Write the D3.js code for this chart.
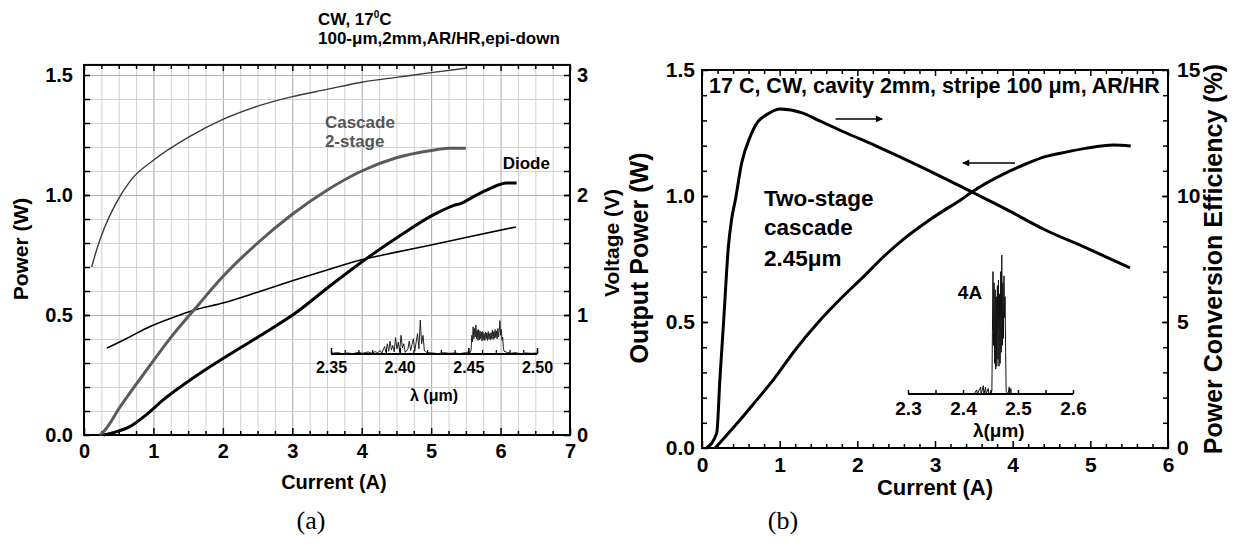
<!DOCTYPE html>
<html><head><meta charset="utf-8">
<script src="https://cdn.jsdelivr.net/npm/d3@7"></script>
<style>
body{margin:0;background:#fff}
svg text{font-family:"Liberation Sans",Arial,sans-serif;font-weight:bold;fill:#000}
.cap{font-family:"Liberation Serif","Times New Roman",serif;font-weight:normal}
</style></head><body>
<svg id="fig" width="1235" height="546"></svg>
<script>
// ---------- Panel (a): cascade vs. diode, L-I-V ----------
const iCascadeV = [0.11,0.18,0.29,0.45,0.67,1.0,1.5,2.0,2.5,3.0,3.5,4.0,4.5,5.0,5.5];
const vCascade  = [1.40,1.54,1.72,1.92,2.12,2.29,2.48,2.63,2.74,2.82,2.88,2.94,2.98,3.02,3.056];
const iCascadeP = [0.23,0.3,0.52,0.9,1.28,1.64,2.0,2.5,3.0,3.5,4.0,4.5,5.0,5.25,5.5];
const pCascade  = [0,0.02,0.117,0.27,0.417,0.54,0.66,0.80,0.92,1.02,1.10,1.155,1.185,1.195,1.195];
const iDiodeP   = [0.28,0.45,0.66,0.9,1.14,1.56,2.12,2.6,3.03,3.56,4.02,4.55,5.05,5.32,5.44,5.56,5.8,6.09,6.23];
const pDiode    = [0,0.012,0.035,0.085,0.146,0.235,0.34,0.425,0.505,0.625,0.725,0.83,0.92,0.956,0.966,0.985,1.02,1.05,1.05];
const iDiodeV   = [0.33,0.6,0.9,1.38,1.64,2.0,2.5,3.0,3.5,4.0,4.5,5.0,5.5,6.22];
const vDiode    = [0.724,0.80,0.89,1.00,1.05,1.10,1.19,1.285,1.375,1.46,1.524,1.584,1.646,1.734];

// spectrum inset of panel (a)
const lamA = [2.350,2.355,2.358,2.362,2.366,2.370,2.373,2.377,2.380,2.382,
  2.384,2.386,2.387,2.389,2.390,2.391,2.392,2.393,2.394,2.395,2.396,2.397,2.398,2.399,2.400,2.401,2.402,2.403,2.404,2.406,2.407,2.408,2.409,2.410,2.411,2.412,2.413,2.414,2.415,2.416,2.417,2.418,2.420,
  2.424,2.428,2.432,2.436,2.440,2.444,2.448,2.450,2.451,
  2.4520,2.4525,2.4530,2.4535,2.4540,2.4545,2.4550,2.4555,2.4560,2.4565,2.4570,2.4575,2.4580,2.4585,2.4590,2.4595,2.4600,2.4605,2.4610,2.4615,2.4620,2.4625,2.4630,2.4635,2.4640,2.4645,2.4650,2.4655,2.4660,2.4665,2.4670,2.4675,2.4680,2.4685,2.4690,2.4695,2.4700,2.4705,2.4710,2.4715,2.4720,2.4725,2.4730,2.4735,2.4740,2.4745,2.4750,2.4755,2.4760,
  2.478,2.481,2.484,2.488,2.492,2.496,2.500];
const intA = [0.02,0.04,0.01,0.03,0.01,0.05,0.02,0.06,0.02,0.07,
  0.04,0.10,0.02,0.22,0.05,0.30,0.08,0.38,0.12,0.25,0.06,0.48,0.15,0.35,0.08,0.55,0.18,0.30,0.05,0.15,0.38,0.10,0.28,0.45,0.08,0.35,0.60,0.15,1.0,0.30,0.55,0.10,0.04,
  0.03,0.01,0.04,0.02,0.03,0.01,0.04,0.06,0.03,
  0.10,0.55,0.35,0.80,0.45,0.75,0.50,0.85,0.45,0.70,0.40,0.72,0.42,0.68,0.45,0.65,0.38,0.66,0.42,0.60,0.40,0.64,0.45,0.62,0.40,0.66,0.44,0.60,0.42,0.63,0.45,0.70,0.43,0.66,0.46,0.72,0.48,0.68,0.45,0.75,0.50,0.70,0.98,0.55,0.72,0.40,0.50,0.20,0.08,
  0.05,0.02,0.04,0.01,0.03,0.02,0.03];
const lamTicksA = [2.35,2.40,2.45,2.50];

// ---------- Panel (b): two-stage cascade ----------
const iEff = [0.06,0.19,0.23,0.28,0.34,0.38,0.43,0.51,0.62,0.72,0.82,1.0,1.29,1.5,1.82,2.23,2.86,3.48,3.9,4.42,4.94,5.51];
const eff  = [0,0.6,2.7,5.1,8.0,9.05,9.85,11.3,12.35,12.95,13.2,13.45,13.3,13.0,12.55,12.0,11.1,10.15,9.5,8.65,7.95,7.15];
const iPow = [0.17,0.3,0.5,0.69,0.93,1.19,1.5,1.81,2.08,2.34,2.6,2.86,3.1,3.33,3.46,3.9,4.17,4.42,4.7,4.94,5.3,5.52];
const pow  = [0,0.045,0.115,0.185,0.275,0.385,0.50,0.60,0.68,0.76,0.83,0.89,0.94,0.984,1.013,1.09,1.127,1.156,1.175,1.189,1.202,1.198];

// spectrum inset of panel (b), 4 A
const lamB = [2.300,2.420,2.425,2.426,2.432,2.433,2.437,2.438,2.441,2.442,2.446,2.447,2.4525,2.4535,2.4545,2.4555,2.4565,2.4575,2.4585,2.4595,2.4605,2.4615,2.4625,2.4635,2.4645,2.4655,2.4665,2.4675,2.4685,2.4695,2.4705,2.4715,2.4725,2.4735,2.4745,2.4755,2.4765,2.4775,2.4785,2.482,2.484,2.485,2.487,2.488,2.600];
const intB = [0,0,0.03,0,0.05,0,0.06,0,0.05,0,0.04,0,0.02,0.45,0.88,0.35,0.80,0.22,0.75,0.18,0.70,0.20,0.78,0.25,0.82,0.20,0.72,0.22,0.88,0.30,1.0,0.35,0.80,0.40,0.85,0.55,0.70,0.30,0.02,0,0.05,0,0.04,0,0];
const lamTicksB = [2.3,2.4,2.5,2.6];

const FONT = '"Liberation Sans",Arial,sans-serif';
const svg = d3.select("#fig");
const zip = (xs, ys) => xs.map((x, i) => [x, ys[i]]);
const isInt = v => Math.abs(v - Math.round(v)) < 1e-6;

function styleAxis(g, size) {
  g.attr("font-family", FONT).attr("font-weight", "bold").attr("font-size", size);
  g.select(".domain").remove();
  g.selectAll(".tick line").attr("stroke", "#000").attr("stroke-width", 1.5);
  g.selectAll(".tick text").attr("fill", "#000");
}

// ================= Panel (a) =================
const xA = d3.scaleLinear().domain([0, 7]).range([84, 570]);
const yA = d3.scaleLinear().domain([0, 1.5]).range([435, 75]);
const yVA = d3.scaleLinear().domain([0, 3]).range([435, 75]);
const aTop = yA(1.542), aBot = yA(0), aL = xA(0), aR = xA(7);
const pa = svg.append("g");

// grid
const gx = pa.append("g").attr("transform", `translate(0,${aBot})`)
  .call(d3.axisBottom(xA).tickValues(d3.range(0.25, 7, 0.25)).tickSize(-(aBot - aTop)).tickFormat(""));
gx.select(".domain").remove();
gx.selectAll(".tick line").attr("stroke", d => isInt(d) ? "#a8a8a8" : "#d2d2d2").attr("stroke-width", 1);
const gy = pa.append("g").attr("transform", `translate(${aL},0)`)
  .call(d3.axisLeft(yA).tickValues(d3.range(0.1, 1.55, 0.1)).tickSize(-(aR - aL)).tickFormat(""));
gy.select(".domain").remove();
gy.selectAll(".tick line").attr("stroke", d => isInt(d * 2) ? "#b4b4b4" : "#d2d2d2").attr("stroke-width", 1);

// ticks (inward)
const minorA = d3.range(0, 7.01, 0.25).filter(v => !isInt(v));
pa.append("g").attr("transform", `translate(0,${aBot})`)
  .call(d3.axisBottom(xA).tickValues(d3.range(0, 8)).tickSize(-7).tickPadding(9).tickFormat(d3.format("d")))
  .call(g => styleAxis(g, 20));
pa.append("g").attr("transform", `translate(0,${aBot})`)
  .call(d3.axisBottom(xA).tickValues(minorA).tickSize(-4).tickFormat(""))
  .call(g => styleAxis(g, 20));
pa.append("g").attr("transform", `translate(0,${aTop})`)
  .call(d3.axisTop(xA).tickValues(d3.range(0, 8)).tickSize(-6).tickFormat(""))
  .call(g => styleAxis(g, 20));
pa.append("g").attr("transform", `translate(0,${aTop})`)
  .call(d3.axisTop(xA).tickValues(minorA).tickSize(-4).tickFormat(""))
  .call(g => styleAxis(g, 20));
pa.append("g").attr("transform", `translate(${aL},0)`)
  .call(d3.axisLeft(yA).tickValues([0, 0.5, 1.0, 1.5]).tickSize(-6).tickPadding(11).tickFormat(d3.format(".1f")))
  .call(g => styleAxis(g, 20));
pa.append("g").attr("transform", `translate(${aL},0)`)
  .call(d3.axisLeft(yA).tickValues(d3.range(0.1, 1.5, 0.1)).tickSize(-6).tickFormat(""))
  .call(g => styleAxis(g, 20));
pa.append("g").attr("transform", `translate(${aR},0)`)
  .call(d3.axisRight(yVA).tickValues([0, 1, 2, 3]).tickSize(-6).tickPadding(7).tickFormat(d3.format("d")))
  .call(g => styleAxis(g, 20));
pa.append("g").attr("transform", `translate(${aR},0)`)
  .call(d3.axisRight(yVA).tickValues(d3.range(0.2, 3, 0.2)).tickSize(-6).tickFormat(""))
  .call(g => styleAxis(g, 20));

pa.append("rect").attr("x", aL).attr("y", aTop).attr("width", aR - aL).attr("height", aBot - aTop)
  .attr("fill", "none").attr("stroke", "#000").attr("stroke-width", 2);

// curves
const lineA = d3.line().x(d => xA(d[0])).y(d => yA(d[1])).curve(d3.curveMonotoneX);
const lineAV = d3.line().x(d => xA(d[0])).y(d => yVA(d[1])).curve(d3.curveMonotoneX);
pa.append("path").attr("d", lineAV(zip(iCascadeV, vCascade))).attr("fill", "none").attr("stroke", "#3a3a3a").attr("stroke-width", 1.4);
pa.append("path").attr("d", lineAV(zip(iDiodeV, vDiode))).attr("fill", "none").attr("stroke", "#000").attr("stroke-width", 1.6);
pa.append("path").attr("d", lineA(zip(iCascadeP, pCascade))).attr("fill", "none").attr("stroke", "#5a5a5a").attr("stroke-width", 3);
pa.append("path").attr("d", lineA(zip(iDiodeP, pDiode))).attr("fill", "none").attr("stroke", "#000").attr("stroke-width", 3);

// spectrum inset (a)
const xSa = d3.scaleLinear().domain([2.35, 2.50]).range([331, 537]);
const ySa = d3.scaleLinear().domain([0, 1]).range([354, 320]);
pa.append("path").attr("d", d3.line().x(d => xSa(d[0])).y(d => ySa(d[1]))(zip(lamA, intA)))
  .attr("fill", "none").attr("stroke", "#222").attr("stroke-width", 1);
pa.append("g").attr("transform", `translate(0,${ySa(0)})`)
  .call(d3.axisBottom(xSa).tickValues(d3.range(2.35, 2.5001, 0.01)).tickSize(-4).tickFormat(""))
  .call(g => { g.select(".domain").remove(); g.selectAll(".tick line").attr("stroke", "#000").attr("stroke-width", 1.2); });
pa.append("g").attr("transform", `translate(0,${ySa(0)})`)
  .call(d3.axisBottom(xSa).tickValues(lamTicksA).tickSize(-6).tickPadding(8).tickFormat(d3.format(".2f")))
  .call(g => styleAxis(g, 16));
pa.append("line").attr("x1", xSa(2.35)).attr("x2", xSa(2.50)).attr("y1", ySa(0)).attr("y2", ySa(0))
  .attr("stroke", "#000").attr("stroke-width", 2);
pa.append("text").attr("x", xSa(2.425)).attr("y", 401).attr("text-anchor", "middle").attr("font-size", 16).text("λ (μm)");

// labels (a)
pa.append("text").attr("x", xA(3.47)).attr("y", yA(1.279)).attr("font-size", 17).style("fill", "#555").text("Cascade");
pa.append("text").attr("x", xA(3.47)).attr("y", yA(1.198)).attr("font-size", 17).style("fill", "#555").text("2-stage");
pa.append("text").attr("x", xA(6.03)).attr("y", yA(1.108)).attr("font-size", 17).text("Diode");
const t1 = pa.append("text").attr("x", 318).attr("y", 25).attr("font-size", 17);
t1.append("tspan").text("CW, 17");
t1.append("tspan").attr("dy", -7).attr("font-size", 10).text("0");
t1.append("tspan").attr("dy", 7).text("C");
pa.append("text").attr("x", 318).attr("y", 44).attr("font-size", 17).text("100-μm,2mm,AR/HR,epi-down");
pa.append("text").attr("transform", "translate(28,249) rotate(-90)").attr("text-anchor", "middle").attr("font-size", 21).text("Power (W)");
pa.append("text").attr("transform", "translate(619,243) rotate(-90)").attr("text-anchor", "middle").attr("font-size", 21).text("Voltage (V)");
pa.append("text").attr("x", xA(3.6)).attr("y", 489).attr("text-anchor", "middle").attr("font-size", 20).text("Current (A)");
pa.append("text").attr("class", "cap").attr("x", 311).attr("y", 529).attr("text-anchor", "middle").attr("font-size", 26).text("(a)");

// ================= Panel (b) =================
const xB = d3.scaleLinear().domain([0, 6]).range([702, 1168]);
const yB = d3.scaleLinear().domain([0, 1.5]).range([448, 70]);
const yE = d3.scaleLinear().domain([0, 15]).range([448, 70]);
const bL = xB(0), bR = xB(6), bT = yB(1.5), bB = yB(0);
const pb = svg.append("g");

const minorB = d3.range(0, 6.01, 0.2).filter(v => !isInt(v));
pb.append("g").attr("transform", `translate(0,${bB})`)
  .call(d3.axisBottom(xB).tickValues(d3.range(0, 7)).tickSize(-7).tickPadding(9).tickFormat(d3.format("d")))
  .call(g => styleAxis(g, 21));
pb.append("g").attr("transform", `translate(0,${bB})`)
  .call(d3.axisBottom(xB).tickValues(minorB).tickSize(-4).tickFormat(""))
  .call(g => styleAxis(g, 21));
pb.append("g").attr("transform", `translate(0,${bT})`)
  .call(d3.axisTop(xB).tickValues(d3.range(0, 7)).tickSize(-6).tickFormat(""))
  .call(g => styleAxis(g, 21));
pb.append("g").attr("transform", `translate(0,${bT})`)
  .call(d3.axisTop(xB).tickValues(minorB).tickSize(-4).tickFormat(""))
  .call(g => styleAxis(g, 21));
pb.append("g").attr("transform", `translate(${bL},0)`)
  .call(d3.axisLeft(yB).tickValues([0, 0.5, 1.0, 1.5]).tickSize(-6).tickPadding(7).tickFormat(d3.format(".1f")))
  .call(g => styleAxis(g, 21));
pb.append("g").attr("transform", `translate(${bL},0)`)
  .call(d3.axisLeft(yB).tickValues(d3.range(0.1, 1.5, 0.1)).tickSize(-5).tickFormat(""))
  .call(g => styleAxis(g, 21));
pb.append("g").attr("transform", `translate(${bR},0)`)
  .call(d3.axisRight(yE).tickValues([0, 5, 10, 15]).tickSize(-6).tickPadding(9).tickFormat(d3.format("d")))
  .call(g => styleAxis(g, 21));
pb.append("g").attr("transform", `translate(${bR},0)`)
  .call(d3.axisRight(yE).tickValues(d3.range(1, 15, 1)).tickSize(-5).tickFormat(""))
  .call(g => styleAxis(g, 21));
pb.append("rect").attr("x", bL).attr("y", bT).attr("width", bR - bL).attr("height", bB - bT)
  .attr("fill", "none").attr("stroke", "#000").attr("stroke-width", 2);

const lineBE = d3.line().x(d => xB(d[0])).y(d => yE(d[1])).curve(d3.curveMonotoneX);
const lineBP = d3.line().x(d => xB(d[0])).y(d => yB(d[1])).curve(d3.curveMonotoneX);
pb.append("path").attr("d", lineBE(zip(iEff, eff))).attr("fill", "none").attr("stroke", "#000").attr("stroke-width", 3);
pb.append("path").attr("d", lineBP(zip(iPow, pow))).attr("fill", "none").attr("stroke", "#000").attr("stroke-width", 3);

// arrows pointing to the axis each curve belongs to
svg.append("defs").append("marker").attr("id", "ah").attr("viewBox", "0 0 10 10").attr("refX", 9).attr("refY", 5)
  .attr("markerWidth", 10).attr("markerHeight", 7).attr("markerUnits", "userSpaceOnUse").attr("orient", "auto")
  .append("path").attr("d", "M0,0L10,5L0,10z").attr("fill", "#000");
pb.append("line").attr("x1", xB(1.72)).attr("x2", xB(2.32)).attr("y1", yE(13.06)).attr("y2", yE(13.06))
  .attr("stroke", "#000").attr("stroke-width", 1.5).attr("marker-end", "url(#ah)");
pb.append("line").attr("x1", xB(4.03)).attr("x2", xB(3.36)).attr("y1", yB(1.131)).attr("y2", yB(1.131))
  .attr("stroke", "#000").attr("stroke-width", 1.5).attr("marker-end", "url(#ah)");

// spectrum inset (b)
const xSb = d3.scaleLinear().domain([2.3, 2.6]).range([908, 1073]);
const ySb = d3.scaleLinear().domain([0, 1]).range([394, 255]);
pb.append("path").attr("d", d3.line().x(d => xSb(d[0])).y(d => ySb(d[1]))(zip(lamB, intB)))
  .attr("fill", "none").attr("stroke", "#111").attr("stroke-width", 1);
pb.append("g").attr("transform", `translate(0,${ySb(0)})`)
  .call(d3.axisBottom(xSb).tickValues(d3.range(2.3, 2.6001, 0.05)).tickSize(-4).tickPadding(8)
    .tickFormat(d => lamTicksB.some(v => Math.abs(v - d) < 1e-6) ? d3.format(".1f")(d) : ""))
  .call(g => styleAxis(g, 19));
pb.append("line").attr("x1", xSb(2.3)).attr("x2", xSb(2.6)).attr("y1", ySb(0)).attr("y2", ySb(0))
  .attr("stroke", "#000").attr("stroke-width", 1.8);
pb.append("text").attr("x", xSb(2.465)).attr("y", 437).attr("text-anchor", "middle").attr("font-size", 19).text("λ(μm)");
pb.append("text").attr("x", 970).attr("y", 299).attr("text-anchor", "middle").attr("font-size", 19).text("4A");

// labels (b)
pb.append("text").attr("x", 709).attr("y", 93).attr("font-size", 21.5).text("17 C, CW, cavity 2mm, stripe 100 μm, AR/HR");
pb.append("text").attr("x", 764).attr("y", 206).attr("font-size", 22.5).text("Two-stage");
pb.append("text").attr("x", 764).attr("y", 235).attr("font-size", 22.5).text("cascade");
pb.append("text").attr("x", 764).attr("y", 266).attr("font-size", 22.5).text("2.45μm");
pb.append("text").attr("transform", "translate(648,258) rotate(-90)").attr("text-anchor", "middle").attr("font-size", 25).text("Output Power (W)");
pb.append("text").attr("transform", "translate(1222,259) rotate(-90)").attr("text-anchor", "middle").attr("font-size", 25).text("Power Conversion Efficiency (%)");
pb.append("text").attr("x", xB(3.0)).attr("y", 495).attr("text-anchor", "middle").attr("font-size", 22).text("Current (A)");
pb.append("text").attr("class", "cap").attr("x", 783).attr("y", 529).attr("text-anchor", "middle").attr("font-size", 26).text("(b)");
</script>
</body></html>
